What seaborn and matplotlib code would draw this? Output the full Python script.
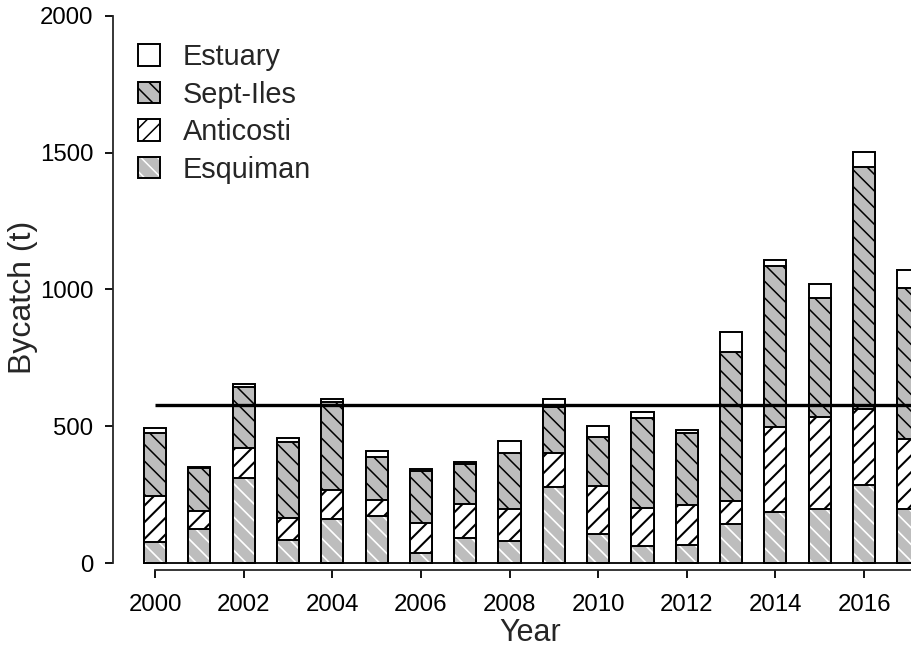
import numpy as np
import pandas as pd
import seaborn as sns
import matplotlib.pyplot as plt
from matplotlib.patches import Patch

# Bycatch (t) by region
years = list(range(2000, 2018))
esquiman = [79, 124, 313, 85, 162, 173, 39, 91, 83, 280, 107, 63, 67, 142, 188, 197, 286, 197]
anticosti = [168, 68, 107, 79, 106, 58, 109, 126, 114, 124, 176, 138, 146, 87, 309, 338, 276, 256]
sept_iles = [228, 155, 225, 280, 322, 159, 190, 146, 207, 168, 179, 329, 262, 542, 589, 433, 887, 551]
estuary = [20, 6, 10, 12, 10, 20, 6, 8, 43, 27, 41, 21, 12, 73, 22, 51, 52, 67]
reference_level = 578
legend_labels = ['Estuary', 'Sept-Iles', 'Anticosti', 'Esquiman']

df = pd.DataFrame({'year': years, 'esquiman': esquiman, 'anticosti': anticosti,
                   'sept_iles': sept_iles, 'estuary': estuary})
df['c1'] = df['esquiman']
df['c2'] = df['c1'] + df['anticosti']
df['c3'] = df['c2'] + df['sept_iles']
df['c4'] = df['c3'] + df['estuary']

sns.set_style('ticks')
plt.rcParams['font.family'] = ['Liberation Sans', 'DejaVu Sans']
plt.rcParams['hatch.linewidth'] = 1.1

GRAY = '#bdbdbd'
LW = 1.4
XMIN, XMAX = 1999.05, 2017.06

fig = plt.figure(figsize=(9.11, 6.47), dpi=100)
ax = fig.add_axes([113 / 911, 1 - 570 / 647, 798 / 911, 565 / 647])

common = dict(x='year', data=df, native_scale=True, width=0.5, errorbar=None,
              saturation=1, ax=ax)

# cumulative totals drawn back to front
sns.barplot(y='c4', color='white', edgecolor='black', linewidth=LW, **common)
with plt.rc_context({'hatch.linewidth': 1.1}):
    sns.barplot(y='c3', color=GRAY, edgecolor='black', linewidth=LW, hatch='\\\\', **common)
with plt.rc_context({'hatch.linewidth': 1.5}):
    sns.barplot(y='c2', color='white', edgecolor='black', linewidth=LW, hatch='//', **common)
with plt.rc_context({'hatch.linewidth': 1.2}):
    sns.barplot(y='c1', color=GRAY, edgecolor='white', linewidth=0, hatch='\\\\', **common)
sns.barplot(y='c1', color='white', facecolor='none', edgecolor='black', linewidth=LW, **common)

ax.hlines(0, 2000 - 0.25, XMAX, color='black', lw=1.3, clip_on=False)
ax.hlines(reference_level, 2000, XMAX, color='black', lw=2.4, zorder=5)

ax.set_xlim(XMIN, XMAX)
ax.set_ylim(-24.5, 2039)
ax.set_xticks(range(2000, 2017, 2))
ax.set_yticks([0, 500, 1000, 1500, 2000])
ax.spines['top'].set_visible(False)
ax.spines['right'].set_visible(False)
ax.spines['left'].set_bounds(0, 2000)
ax.spines['bottom'].set_bounds(2000, XMAX)
for s in ('left', 'bottom'):
    ax.spines[s].set_linewidth(1.3)
ax.tick_params(axis='both', direction='out', length=6, width=1.3,
               labelsize=17.3, colors='black')
ax.tick_params(axis='y', pad=8)
ax.tick_params(axis='x', pad=11)

ax.set_xlabel('Year', fontsize=22)
ax.set_ylabel('Bycatch (t)', fontsize=23)
ax.xaxis.set_label_coords((530 - 113) / 798, (570 - 618) / 565)
ax.yaxis.set_label_coords((38 - 113) / 798, 0.483)

handles = [
    Patch(facecolor='white', edgecolor='black', linewidth=LW),
    Patch(facecolor=GRAY, edgecolor='black', linewidth=LW, hatch='\\\\'),
    Patch(facecolor='white', edgecolor='black', linewidth=LW, hatch='//'),
    (Patch(facecolor=GRAY, edgecolor='white', linewidth=0, hatch='\\\\'),
     Patch(facecolor='none', edgecolor='black', linewidth=LW)),
]
ax.legend(handles, legend_labels, loc='upper left',
          bbox_to_anchor=(138 / 911, 1 - 43 / 647), bbox_transform=fig.transFigure,
          frameon=False, fontsize=20.8, handlelength=0.76, handleheight=0.76,
          handletextpad=0.8, labelspacing=0.33, borderpad=0, borderaxespad=0)

fig.savefig('out.png', dpi=100)
